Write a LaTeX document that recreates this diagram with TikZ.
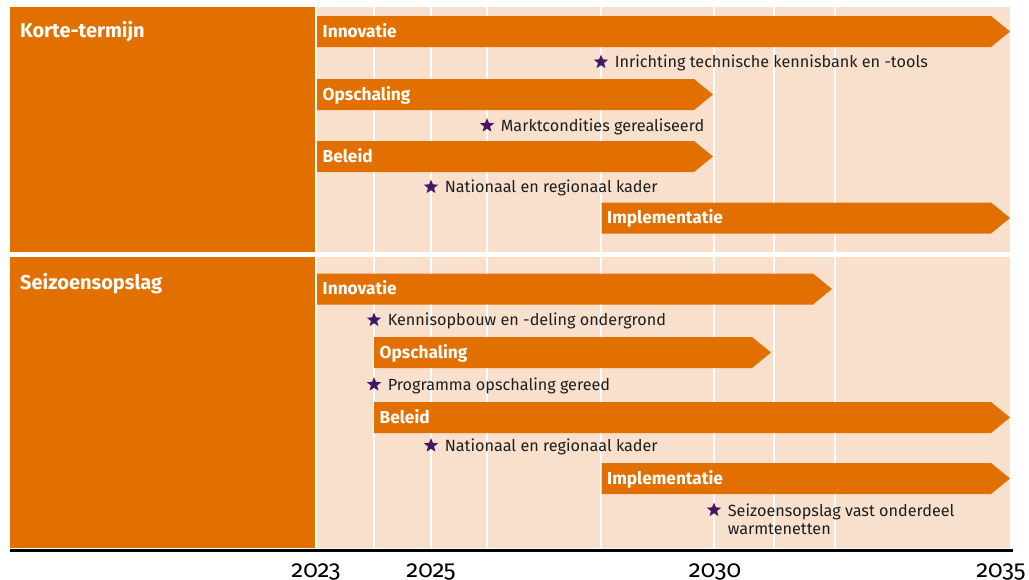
\documentclass[tikz,border=0pt]{standalone}
\usepackage{fontspec}
\setmainfont{Fira Sans}
\newfontfamily\jaarfont{Fira Sans}[Numbers=OldStyle]
\usetikzlibrary{positioning,shapes.geometric}
\definecolor{rijksoranje}{RGB}{225,112,0}
\definecolor{perzik}{RGB}{248,224,204}
\definecolor{violet}{RGB}{68,22,100}
\definecolor{tekstgrijs}{RGB}{30,30,30}

\begin{document}
\begin{tikzpicture}
[
  x=1pt, y=-1pt,
  balk/.style={fill=rijksoranje},
  balklabel/.style={anchor=west, inner sep=0pt, text=white, font=\fontsize{17.3}{19}\selectfont\bfseries, text height=11.9pt, text depth=0pt},
  sectie/.style={anchor=base west, inner sep=0pt, text=white, font=\fontsize{20}{22}\selectfont\bfseries},
  ster/.style={star, star points=5, star point ratio=2.3, fill=violet, inner sep=0pt, minimum size=15pt},
  mijltekst/.style={inner sep=0pt, text=tekstgrijs, font=\fontsize{16.2}{18.5}\selectfont},
  mijlpaal/.style={mijltekst, text height=11.2pt, text depth=0pt},
  jaar/.style={anchor=base, inner sep=0pt, text=black, font=\fontsize{24}{26}\selectfont\jaarfont}
]

\useasboundingbox (0,0) rectangle (1029,579);

\fill[rijksoranje] (10,7) rectangle (315,251.5);
\fill[perzik] (317,7) rectangle (1010,251.5);
\fill[rijksoranje] (10,256.5) rectangle (315,548);
\fill[perzik] (317,256.5) rectangle (1010,548);

\foreach \x in {374,431,487,601,714,774,835}
  \draw[white, line width=1.5pt] (\x,7) -- (\x,548);

\node[sectie] (kort) at (20,37) {Korte-termijn};
\node[sectie] (seizoen) at (20,289.5) {Seizoensopslag};

\foreach \n/\ya/\xa/\xb/\t in {k1/16/317/1010/Innovatie, k2/79/317/713/Opschaling,
    k3/141/317/713/Beleid, k4/202.5/601.5/1010/Implementatie,
    s1/273.5/317/832/Innovatie, s2/337/374/771/Opschaling,
    s3/402/374/1010/Beleid, s4/463/601.5/1010/Implementatie}
{
  \fill[balk] (\xa,\ya) -- (\xb-19,\ya) -- (\xb,\ya+15.5) -- (\xb-19,\ya+31) -- (\xa,\ya+31) -- cycle;
  \node[balklabel] (\n) at (\xa+5.5,\ya+15.5) {\t};
}

\node[ster] (m1) at (601,62) {};
\node[mijlpaal, right=9pt of m1] (t1) {Inrichting technische kennisbank en -tools};
\node[ster] (m2) at (487,125.5) {};
\node[mijlpaal, right=9pt of m2] (t2) {Marktcondities gerealiseerd};
\node[ster] (m3) at (431,187) {};
\node[mijlpaal, right=9pt of m3] (t3) {Nationaal en regionaal kader};
\node[ster] (m4) at (374,320) {};
\node[mijlpaal, right=9pt of m4] (t4) {Kennisopbouw en -deling ondergrond};
\node[ster] (m5) at (374,384.5) {};
\node[mijlpaal, right=9pt of m5] (t5) {Programma opschaling gereed};
\node[ster] (m6) at (431,445.5) {};
\node[mijlpaal, right=9pt of m6] (t6) {Nationaal en regionaal kader};
\node[ster] (m7) at (714,510) {};
\node[mijltekst, anchor=north west, align=left] (t7) at ([xshift=9pt, yshift=6.4pt]m7.east)
  {Seizoensopslag vast onderdeel\\warmtenetten};

\draw[line width=3pt] (10,550.5) -- (1013,550.5);

\node[jaar] (j2023) at (316,577) {2023};
\node[jaar] (j2025) at (431,577) {2025};
\node[jaar] (j2030) at (715,577) {2030};
\node[jaar] (j2035) at (1001,577) {2035};
\end{tikzpicture}
\end{document}
